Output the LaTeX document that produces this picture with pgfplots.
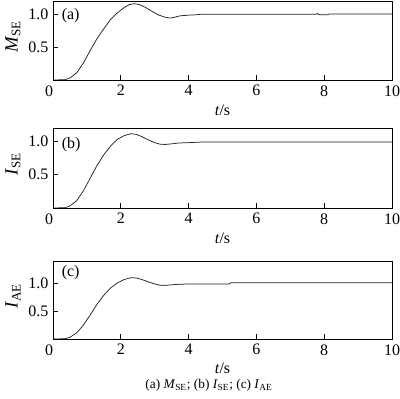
\documentclass[border=0pt]{standalone}
\usepackage{pgfplots}
\pgfplotsset{compat=1.18}
\usepackage{fontspec}
\setmainfont{Liberation Serif}
\definecolor{curve}{gray}{0.12}
\pgfplotsset{
  panel/.style={
    scale only axis, anchor=south west,
    width=254.25pt,
    xmin=0, xmax=10, ymin=0,
    xtick={0,2,4,6,8,10},
    xticklabels={\hspace*{-6pt}0,2,4,6,8,10},
    ytick={0.5,1.0},
    yticklabels={0.5,1.0},
    tick align=inside,
    xtick pos=lower, ytick pos=left,
    major tick length=3.5pt,
    every tick/.style={black, line width=0.5pt},
    axis line style={line width=0.7pt},
    tick label style={font=\fontsize{12}{12}\selectfont},
    /pgf/number format/assume math mode=true,
    xticklabel style={yshift=-0.5pt},
    yticklabel style={xshift=0pt},
    xlabel={\textit{t}/s},
    xlabel style={font=\fontsize{12}{12}\selectfont, at={(axis description cs:0.5,-0.38)}, anchor=center},
    ylabel style={font=\fontsize{14}{14}\selectfont, at={(axis description cs:-0.118,0.55)}, anchor=center},
  },
  crv/.style={color=curve, line width=0.55pt, mark=none}
}
\begin{document}
\begin{tikzpicture}
\useasboundingbox (0,0) rectangle (300pt,299.25pt);
% (a)
\begin{axis}[panel, at={(39.75pt,239.25pt)}, height=59.25pt, ymax=1.2,
  ylabel={\textit{M}\textsubscript{SE}}]
\addplot[crv] coordinates {(0,0) (0.35,0.004) (0.5,0.03) (0.7,0.11) (0.9,0.26) (1.1,0.45) (1.3,0.63) (1.5,0.78) (1.7,0.92) (1.9,1.02) (2.1,1.10) (2.25,1.145) (2.4,1.16) (2.55,1.145) (2.7,1.11) (2.9,1.05) (3.1,0.99) (3.3,0.955) (3.45,0.94) (3.6,0.955) (3.75,0.975) (4.0,0.985) (4.2,0.99) (4.35,0.997) (7.75,0.997) (7.8,1.01) (7.85,0.99) (8.1,0.99) (8.15,1.004) (10,1.004)};
\node[anchor=west, font=\fontsize{12}{12}\selectfont] at (axis description cs:0.012,0.82) {(a)};
\end{axis}
% (b)
\begin{axis}[panel, at={(39.75pt,143.25pt)}, height=60pt, ymax=1.2,
  ylabel={\textit{I}\textsubscript{SE}}]
\addplot[crv] coordinates {(0,0) (0.35,0.004) (0.5,0.03) (0.7,0.11) (0.9,0.26) (1.1,0.45) (1.3,0.64) (1.5,0.80) (1.7,0.93) (1.9,1.03) (2.1,1.085) (2.3,1.115) (2.45,1.105) (2.6,1.075) (2.8,1.025) (3.0,0.98) (3.15,0.958) (3.3,0.953) (3.5,0.962) (3.7,0.975) (4.0,0.98) (4.2,0.985) (4.45,0.99) (10,0.99)};
\node[anchor=west, font=\fontsize{12}{12}\selectfont] at (axis description cs:0.012,0.79) {(b)};
\end{axis}
% (c)
\begin{axis}[panel, at={(39.75pt,45pt)}, height=58.5pt, ymax=1.39,
  xlabel style={at={(axis description cs:0.5,-0.37)}},
  ylabel={\textit{I}\textsubscript{AE}}]
\addplot[crv] coordinates {(0,0) (0.35,0.004) (0.5,0.03) (0.7,0.11) (0.9,0.25) (1.1,0.43) (1.3,0.62) (1.5,0.78) (1.7,0.91) (1.9,1.0) (2.1,1.06) (2.3,1.093) (2.45,1.088) (2.6,1.065) (2.8,1.02) (3.0,0.98) (3.15,0.96) (3.3,0.955) (3.5,0.965) (3.7,0.975) (4.0,0.98) (5.2,0.982) (5.25,1.003) (10,1.003)};
\node[anchor=west, font=\fontsize{12}{12}\selectfont] at (axis description cs:0.012,0.85) {(c)};
\end{axis}
\node[font=\fontsize{10}{10}\selectfont] at (156.75pt,10.5pt) {(a) \textit{M}\textsubscript{SE}; (b) \textit{I}\textsubscript{SE}; (c) \textit{I}\textsubscript{AE}};
\end{tikzpicture}
\end{document}
